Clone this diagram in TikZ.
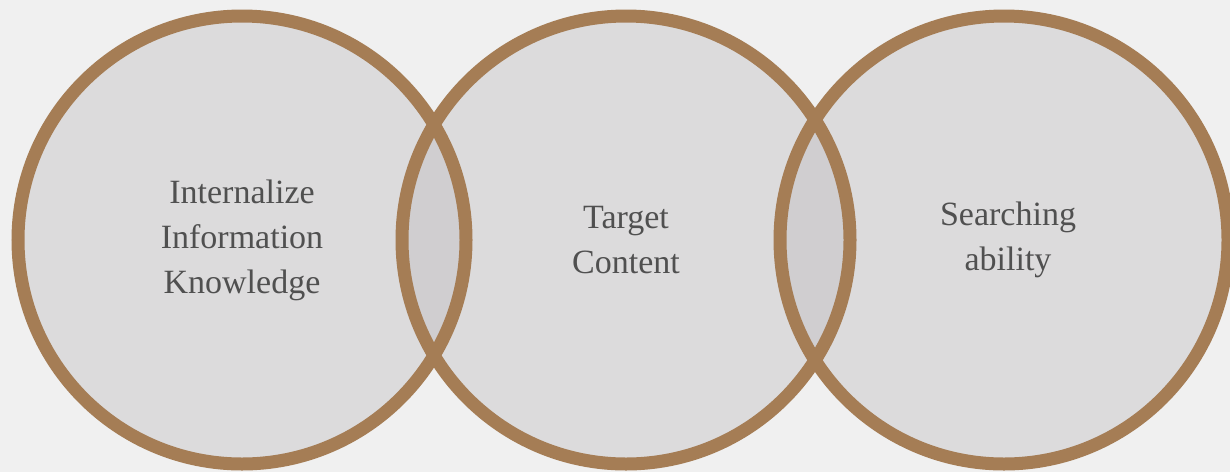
\documentclass[tikz,border=0pt]{standalone}
\usepackage{fontspec}
\setmainfont{Liberation Serif}
\definecolor{bgc}{HTML}{F0F0F0}
\definecolor{ringc}{HTML}{A57D55}
\definecolor{fillc}{HTML}{BEBCBE}
\definecolor{txtc}{HTML}{505050}
\tikzset{
  disc/.style={circle, minimum size=448pt, inner sep=0pt, fill=fillc, fill opacity=0.4},
  ring/.style={draw=ringc, line width=13pt},
  label/.style={align=center, text=txtc, font=\fontsize{34}{45}\selectfont, inner sep=0pt}
}
\begin{document}
\begin{tikzpicture}[x=1pt,y=-1pt]
\fill[bgc] (0,0) rectangle (1230,472);
\useasboundingbox (0,0) rectangle (1230,472);
\node[disc] (c1) at (242,240) {};
\node[disc] (c2) at (626,240) {};
\node[disc] (c3) at (1004,240) {};
\draw[ring] (c1.center) circle[radius=224pt];
\draw[ring] (c2.center) circle[radius=224pt];
\draw[ring] (c3.center) circle[radius=224pt];
\node[label] (t1) at (242,240) {Internalize\\Information\\Knowledge};
\node[label] (t2) at (626,240) {Target\\Content};
\node[label] (t3) at (1008,240) {Searching\\ability};
\end{tikzpicture}
\end{document}
